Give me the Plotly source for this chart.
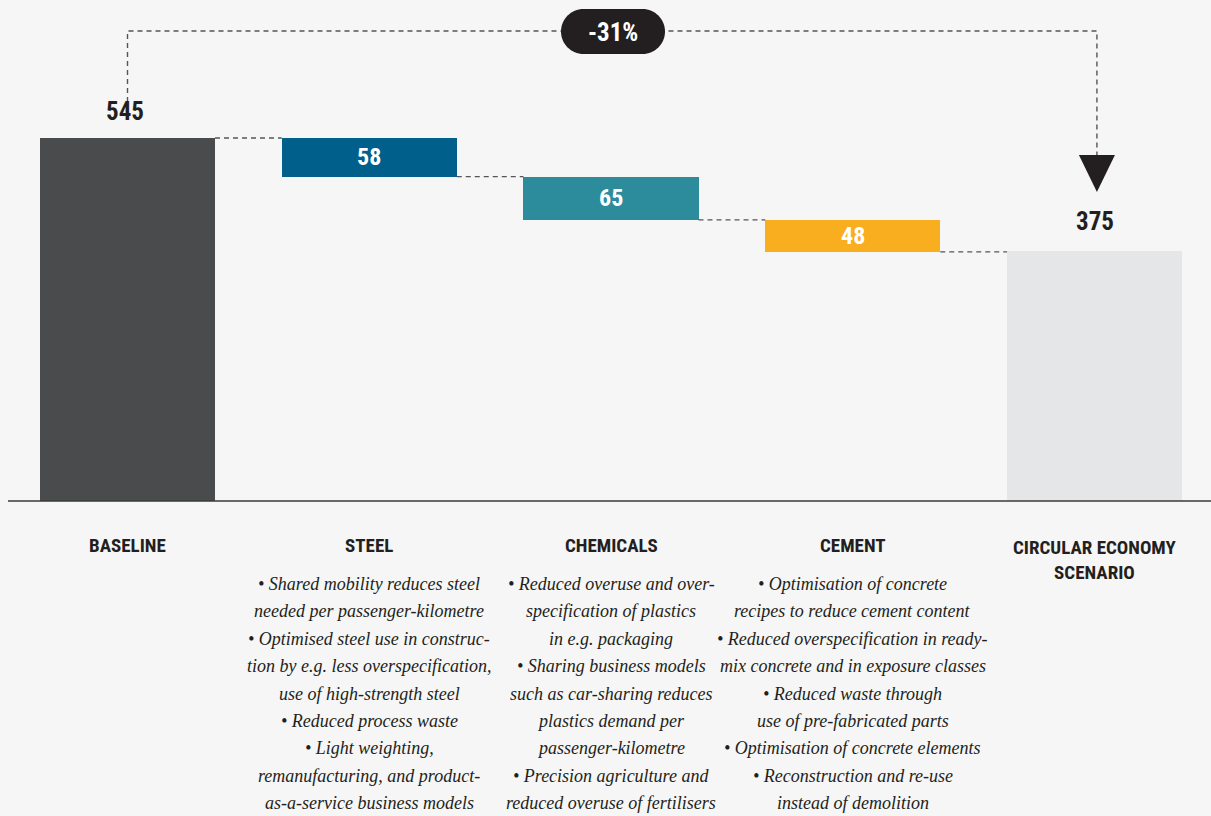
import plotly.graph_objects as go

# ---------------- data ----------------
categories = ["BASELINE", "STEEL", "CHEMICALS", "CEMENT", "CIRCULAR ECONOMY<br>SCENARIO"]
baseline_value = 545
reduction_values = [58, 65, 48]
scenario_value = 375
change_label = "-31%"

steel_notes = [
    "• Shared mobility reduces steel",
    "needed per passenger-kilometre",
    "• Optimised steel use in construc-",
    "tion by e.g. less overspecification,",
    "use of high-strength steel",
    "• Reduced process waste",
    "• Light weighting,",
    "remanufacturing, and product-",
    "as-a-service business models",
]
chemicals_notes = [
    "• Reduced overuse and over-",
    "specification of plastics",
    "in e.g. packaging",
    "• Sharing business models",
    "such as car-sharing reduces",
    "plastics demand per",
    "passenger-kilometre",
    "• Precision agriculture and",
    "reduced overuse of fertilisers",
]
cement_notes = [
    "• Optimisation of concrete",
    "recipes to reduce cement content",
    "• Reduced overspecification in ready-",
    "mix concrete and in exposure classes",
    "• Reduced waste through",
    "use of pre-fabricated parts",
    "• Optimisation of concrete elements",
    "• Reconstruction and re-use",
    "instead of demolition",
]

# ---------------- style ----------------
BG = "#f6f6f6"
DARK = "#231f20"
total_colors = ["#4a4b4d", "#e5e6e8"]
reduction_colors = ["#005f8b", "#2c8c9c", "#f8ae1e"]
COND = "Liberation Sans Narrow, Roboto Condensed, DejaVu Sans Condensed, Arial Narrow, sans-serif"
SERIF = "Liberation Serif, DejaVu Serif, serif"
DASH = "5px,4px"

W, H = 1211, 816
PX_PER_X = 241.75
X0_PX = 127.5
Y0_PX = 501.0
PX_PER_Y = 363.0 / 545.0
BAR_W = 0.724


def xd(px):
    return (px - X0_PX) / PX_PER_X


def yd(py):
    return (Y0_PX - py) / PX_PER_Y


# waterfall bases
levels = [baseline_value]
bases = []
for r in reduction_values:
    bases.append(levels[-1] - r)
    levels.append(levels[-1] - r)

fig = go.Figure()

# totals
fig.add_trace(go.Bar(
    x=[0, 4], y=[baseline_value, scenario_value], base=[0, 0],
    width=BAR_W, marker=dict(color=total_colors, line=dict(width=0)),
    hoverinfo="skip", showlegend=False,
))
# reductions
fig.add_trace(go.Bar(
    x=[1, 2, 3], y=reduction_values, base=bases,
    width=BAR_W, marker=dict(color=reduction_colors, line=dict(width=0)),
    hoverinfo="skip", showlegend=False,
))

shapes = []
# connectors
for i in range(4):
    shapes.append(dict(type="line", xref="x", yref="y",
                       x0=i + BAR_W / 2, x1=i + 1 - BAR_W / 2,
                       y0=levels[i], y1=levels[i],
                       line=dict(color="#555555", width=1.4, dash=DASH)))
# baseline axis line
shapes.append(dict(type="line", xref="paper", yref="y", x0=8 / W, x1=1, y0=0, y1=0,
                   line=dict(color="#3a3a3a", width=1.5)))

# bracket
top_y = yd(31)
shapes.append(dict(type="path", xref="x", yref="y",
                   path=f"M 0,{yd(102)} L 0,{top_y} L 4.01,{top_y} L 4.01,{yd(158)}",
                   line=dict(color="#555555", width=1.4, dash=DASH)))
# arrow head
ax = 4.01
hw = 18 / PX_PER_X
shapes.append(dict(type="path", xref="x", yref="y",
                   path=f"M {ax-hw},{yd(155)} L {ax+hw},{yd(155)} L {ax},{yd(192)} Z",
                   fillcolor=DARK, line=dict(color=DARK, width=0)))

# pill
cxl, cxr, cy, r = 583.5, 642.5, 31.5, 22.5
k = 0.5523
pts = [
    ("M", [(cxl, cy - r)]),
    ("L", [(cxr, cy - r)]),
    ("C", [(cxr + k * r, cy - r), (cxr + r, cy - k * r), (cxr + r, cy)]),
    ("C", [(cxr + r, cy + k * r), (cxr + k * r, cy + r), (cxr, cy + r)]),
    ("L", [(cxl, cy + r)]),
    ("C", [(cxl - k * r, cy + r), (cxl - r, cy + k * r), (cxl - r, cy)]),
    ("C", [(cxl - r, cy - k * r), (cxl - k * r, cy - r), (cxl, cy - r)]),
]
path = " ".join(cmd + " " + " ".join(f"{xd(px):.5f},{yd(py):.3f}" for px, py in p) for cmd, p in pts) + " Z"
shapes.append(dict(type="path", xref="x", yref="y", path=path,
                   fillcolor=DARK, line=dict(color=DARK, width=0)))

annotations = []
annotations.append(dict(x=xd(613), y=yd(32), xref="x", yref="y", text=change_label,
                        showarrow=False, font=dict(family=COND, size=25, color="white", weight="bold")))
# total labels
annotations.append(dict(x=xd(125), y=baseline_value, xref="x", yref="y", yshift=27, text=str(baseline_value),
                        showarrow=False, font=dict(family=COND, size=25, color=DARK, weight="bold")))
annotations.append(dict(x=4, y=scenario_value, xref="x", yref="y", yshift=30, text=str(scenario_value),
                        showarrow=False, font=dict(family=COND, size=25, color=DARK, weight="bold")))
# reduction values inside bars
for i, (b, v) in enumerate(zip(bases, reduction_values)):
    annotations.append(dict(x=i + 1, y=b + v / 2, xref="x", yref="y", text=str(v), showarrow=False,
                            font=dict(family=COND, size=24, color="white", weight="bold")))
# category labels
for i, c in enumerate(categories):
    ypos = 560 if "<br>" in c else 545
    annotations.append(dict(x=i, y=yd(ypos), xref="x", yref="y", text=c, showarrow=False,
                            font=dict(family=COND, size=19, color=DARK, weight="bold")))
# notes
for i, notes in zip([1, 2, 3], [steel_notes, chemicals_notes, cement_notes]):
    for j, line in enumerate(notes):
        annotations.append(dict(x=i, y=yd(584 + j * 27.4), xref="x", yref="y", text=line,
                                showarrow=False,
                                font=dict(family=SERIF, size=18, color=DARK, style="italic")))

fig.update_layout(
    width=W, height=H,
    margin=dict(l=0, r=0, t=0, b=0),
    paper_bgcolor=BG, plot_bgcolor=BG,
    xaxis=dict(range=[xd(0), xd(W)], visible=False, fixedrange=True),
    yaxis=dict(range=[yd(H), yd(0)], visible=False, fixedrange=True),
    shapes=shapes, annotations=annotations,
    barmode="overlay", bargap=0,
)

fig.write_html("out.html", config={"displayModeBar": False},
               post_script="document.body.style.margin='0';document.body.style.overflow='hidden';")
